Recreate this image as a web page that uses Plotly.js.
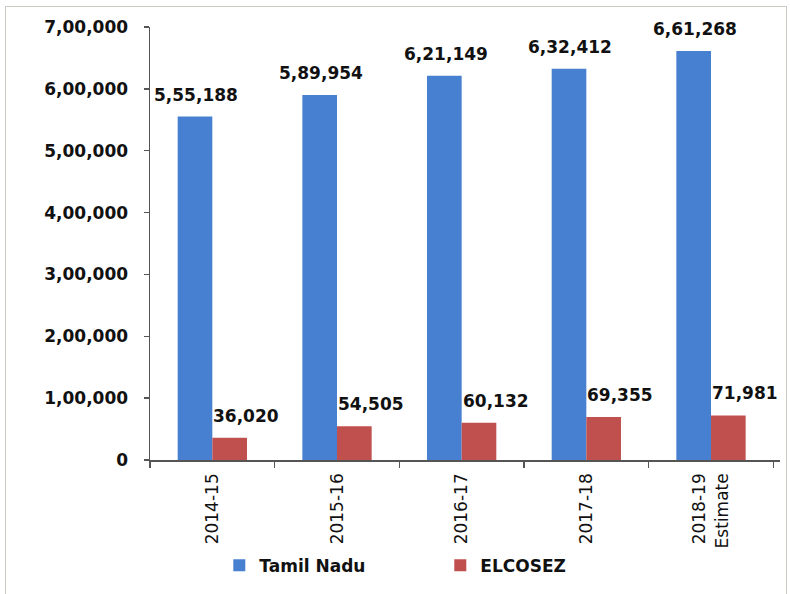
<!DOCTYPE html>
<html>
<head>
<meta charset="utf-8">
<script src="https://cdn.plot.ly/plotly-3.0.1.min.js"></script>
<style>
  html, body { margin: 0; padding: 0; background: #ffffff; }
  #wrap { position: relative; width: 790px; height: 594px; }
  #chart { position: absolute; left: 0; top: 0; width: 790px; height: 594px; }
  #frame { position: absolute; left: 5px; top: 6px; width: 782px; height: 592px;
           border: 1px solid #c9ccc0; pointer-events: none; box-sizing: border-box; }
</style>
</head>
<body>
<div id="wrap">
  <div id="chart"></div>
  <div id="frame"></div>
</div>
<script>
// ---- data ----
const categories = ["2014-15", "2015-16", "2016-17", "2017-18", "2018-19<br>Estimate"];
const tamilNadu = [555188, 589954, 621149, 632412, 661268];
const elcosez = [36020, 54505, 60132, 69355, 71981];
const yTickVals = [0, 100000, 200000, 300000, 400000, 500000, 600000, 700000];

// Indian digit grouping (e.g. 5,55,188)
function indianFormat(n) {
  const s = String(Math.round(n));
  if (s.length <= 3) return s;
  const last3 = s.slice(-3);
  let rest = s.slice(0, -3);
  const parts = [];
  while (rest.length > 2) { parts.unshift(rest.slice(-2)); rest = rest.slice(0, -2); }
  if (rest.length) parts.unshift(rest);
  return parts.join(",") + "," + last3;
}

const FONT = "DejaVu Sans, Arial, sans-serif";
const blue = "#4780d0";
const red = "#c0504d";

const traces = [
  { type: "bar", name: "Tamil Nadu", x: categories, y: tamilNadu,
    marker: { color: blue, line: { width: 0 } }, hoverinfo: "skip" },
  { type: "bar", name: "ELCOSEZ", x: categories, y: elcosez,
    marker: { color: red, line: { width: 0 } }, hoverinfo: "skip" }
];

const annotations = [];
categories.forEach((c, i) => {
  annotations.push({ x: c, y: tamilNadu[i], xref: "x", yref: "y", text: indianFormat(tamilNadu[i]),
    showarrow: false, yanchor: "middle", yshift: 22, xshift: -16,
    font: { family: FONT, size: 17, weight: "bold", color: "#111" } });
  annotations.push({ x: c, y: elcosez[i], xref: "x", yref: "y", text: indianFormat(elcosez[i]),
    showarrow: false, yanchor: "middle", yshift: 22, xshift: 34,
    font: { family: FONT, size: 17, weight: "bold", color: "#111" } });
});

const layout = {
  width: 790, height: 594,
  margin: { l: 150, r: 10, t: 27, b: 132 },
  paper_bgcolor: "rgba(0,0,0,0)",
  plot_bgcolor: "rgba(0,0,0,0)",
  barmode: "group", bargap: 0.444, bargroupgap: 0,
  showlegend: true,
  legend: { orientation: "h", x: 0.11, xanchor: "left", y: -0.244, yanchor: "middle",
    entrywidth: 176, entrywidthmode: "pixels",
    font: { family: FONT, size: 17, weight: "bold", color: "#111" } },
  xaxis: { type: "category", showline: true, linecolor: "#555", linewidth: 1.5,
    ticks: "outside", tickson: "boundaries", ticklen: 6, tickcolor: "#555", tickwidth: 1.5,
    tickangle: -90, showgrid: false, zeroline: false, ticklabelstandoff: 5,
    tickfont: { family: FONT, size: 17, color: "#111" } },
  yaxis: { range: [0, 700000], showline: true, linecolor: "#555", linewidth: 1.5,
    ticks: "outside", ticklen: 5, tickcolor: "#555", tickwidth: 1.5,
    tickvals: yTickVals, ticktext: yTickVals.map(indianFormat),
    ticklabelstandoff: 12,
    showgrid: false, zeroline: false,
    tickfont: { family: FONT, size: 17, weight: "bold", color: "#111" } },
  annotations: annotations
};

Plotly.newPlot("chart", traces, layout, { displayModeBar: false, staticPlot: true });
</script>
</body>
</html>
